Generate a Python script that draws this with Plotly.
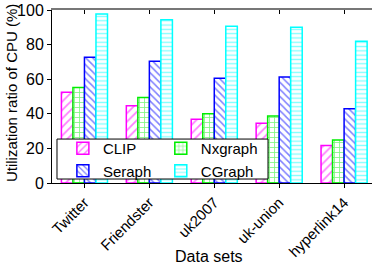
import plotly.graph_objects as go

datasets = ["Twitter", "Friendster", "uk2007", "uk-union", "hyperlink14"]
clip = [52.5, 44.6, 36.9, 34.6, 21.7]
nxgraph = [55.2, 49.4, 40.0, 38.8, 24.8]
seraph = [72.7, 70.4, 60.6, 61.3, 42.9]
cgraph = [97.7, 94.4, 90.6, 90.0, 81.9]
y_ticks = [0, 20, 40, 60, 80, 100]

FONT = "Liberation Sans, Arial, sans-serif"

series = [
    ("CLIP", clip, "#FF00FF", "/", 6, "legend"),
    ("Nxgraph", nxgraph, "#00EE00", "+", 5, "legend2"),
    ("Seraph", seraph, "#0000FF", "\\", 5, "legend"),
    ("CGraph", cgraph, "#00FFFF", "-", 4.3, "legend2"),
]

fig = go.Figure()
for name, vals, col, shape, size, leg in series:
    fig.add_trace(go.Bar(
        name=name, x=datasets, y=vals, legend=leg,
        marker=dict(
            color="white",
            line=dict(color=col, width=1.5),
            pattern=dict(shape=shape, fgcolor=col, bgcolor="white",
                         size=size, solidity=0.3, fillmode="overlay"),
        ),
    ))

leg_common = dict(
    orientation="v", yanchor="top", xanchor="left", y=0.295,
    bgcolor="rgba(0,0,0,0)", borderwidth=0,
    font=dict(family=FONT, size=15), tracegroupgap=0, itemwidth=30,
)

fig.update_layout(
    width=372, height=269,
    margin=dict(l=52, r=0, t=10, b=86, autoexpand=False),
    paper_bgcolor="white", plot_bgcolor="white",
    barmode="group", bargap=0.29, bargroupgap=0,
    font=dict(family=FONT, size=15, color="black"),
    showlegend=True,
    legend=dict(x=0.034, **leg_common),
    legend2=dict(x=0.34, **leg_common),
    shapes=[dict(type="rect", xref="paper", yref="paper",
                 x0=0.0156, x1=0.675, y0=0.023, y1=0.254,
                 fillcolor="white", line=dict(color="black", width=1), layer="above")],
    xaxis=dict(
        range=[-0.5, 4.43], showline=True, linecolor="black", linewidth=1,
        ticks="outside", ticklen=4, tickcolor="black", tickangle=-45,
        tickfont=dict(family=FONT, size=15), showgrid=False, zeroline=False,
        automargin=False,
    ),
    xaxis2=dict(
        overlaying="x", side="top", anchor="y", range=[-0.5, 4.43],
        showline=True, linecolor="#777777", linewidth=1.5,
        ticks="inside", ticklen=4, tickcolor="black",
        tickvals=[0, 1, 2, 3, 4], showticklabels=False, showgrid=False, zeroline=False,
        automargin=False,
    ),
    yaxis=dict(
        range=[0, 100], tickvals=y_ticks, showline=True, linecolor="black", linewidth=1,
        ticks="outside", ticklen=4, tickcolor="black",
        tickfont=dict(family=FONT, size=16), showgrid=False, zeroline=False,
        automargin=False,
    ),
    annotations=[
        dict(text="Data sets", xref="paper", yref="paper", x=0.49, y=-0.425,
             xanchor="center", yanchor="middle", showarrow=False,
             font=dict(family=FONT, size=16)),
        dict(text="Utilization ratio of CPU (%)", xref="paper", yref="paper",
             x=-0.128, y=0.52, xanchor="center", yanchor="middle", textangle=-90,
             showarrow=False, font=dict(family=FONT, size=15)),
    ],
)
fig.add_trace(go.Scatter(x=[None], y=[None], xaxis="x2", showlegend=False, hoverinfo="skip"))

fig.write_html("out.html", config={"displayModeBar": False},
               post_script="document.body.style.margin='0';document.body.style.overflow='hidden';")
